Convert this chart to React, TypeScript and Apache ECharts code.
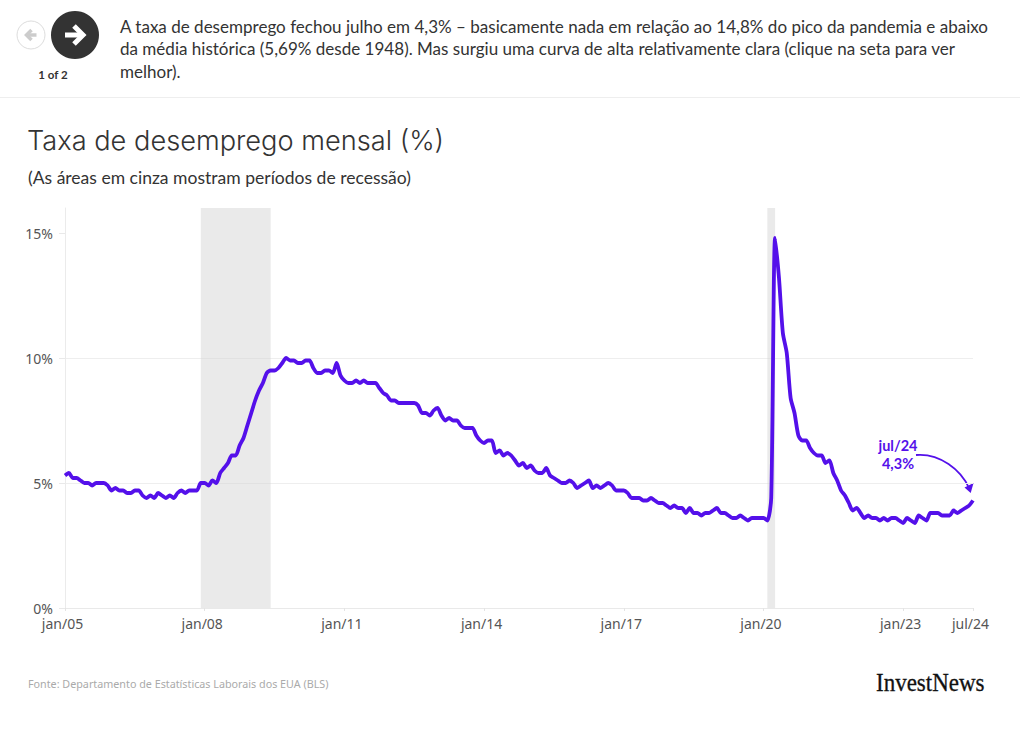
import React, { useEffect, useRef } from "react";
import * as echarts from "echarts";

const y2005 = [5.3, 5.4, 5.2, 5.2, 5.1, 5.0, 5.0, 4.9, 5.0, 5.0, 5.0, 4.9];
const y2006 = [4.7, 4.8, 4.7, 4.7, 4.6, 4.6, 4.7, 4.7, 4.5, 4.4, 4.5, 4.4];
const y2007 = [4.6, 4.5, 4.4, 4.5, 4.4, 4.6, 4.7, 4.6, 4.7, 4.7, 4.7, 5.0];
const y2008 = [5.0, 4.9, 5.1, 5.0, 5.4, 5.6, 5.8, 6.1, 6.1, 6.5, 6.8, 7.3];
const y2009 = [7.8, 8.3, 8.7, 9.0, 9.4, 9.5, 9.5, 9.6, 9.8, 10.0, 9.9, 9.9];
const y2010 = [9.8, 9.8, 9.9, 9.9, 9.6, 9.4, 9.4, 9.5, 9.5, 9.4, 9.8, 9.3];
const y2011 = [9.1, 9.0, 9.0, 9.1, 9.0, 9.1, 9.0, 9.0, 9.0, 8.8, 8.6, 8.5];
const y2012 = [8.3, 8.3, 8.2, 8.2, 8.2, 8.2, 8.2, 8.1, 7.8, 7.8, 7.7, 7.9];
const y2013 = [8.0, 7.7, 7.5, 7.6, 7.5, 7.5, 7.3, 7.2, 7.2, 7.2, 6.9, 6.7];
const y2014 = [6.6, 6.7, 6.7, 6.2, 6.3, 6.1, 6.2, 6.1, 5.9, 5.7, 5.8, 5.6];
const y2015 = [5.7, 5.5, 5.4, 5.4, 5.6, 5.3, 5.2, 5.1, 5.0, 5.0, 5.1, 5.0];
const y2016 = [4.8, 4.9, 5.0, 5.1, 4.8, 4.9, 4.8, 4.9, 5.0, 4.9, 4.7, 4.7];
const y2017 = [4.7, 4.6, 4.4, 4.4, 4.4, 4.3, 4.3, 4.4, 4.3, 4.2, 4.2, 4.1];
const y2018 = [4.0, 4.1, 4.0, 4.0, 3.8, 4.0, 3.8, 3.8, 3.7, 3.8, 3.8, 3.9];
const y2019 = [4.0, 3.8, 3.8, 3.7, 3.6, 3.6, 3.7, 3.6, 3.5, 3.6, 3.6, 3.6];
const y2020 = [3.6, 3.5, 4.4, 14.8, 13.2, 11.0, 10.2, 8.4, 7.8, 6.9, 6.7, 6.7];
const y2021 = [6.4, 6.2, 6.1, 6.1, 5.8, 5.9, 5.4, 5.1, 4.7, 4.5, 4.2, 3.9];
const y2022 = [4.0, 3.8, 3.6, 3.7, 3.6, 3.6, 3.5, 3.6, 3.5, 3.6, 3.6, 3.5];
const y2023 = [3.4, 3.6, 3.5, 3.4, 3.7, 3.6, 3.5, 3.8, 3.8, 3.8, 3.7, 3.7];
const y2024 = [3.7, 3.9, 3.8, 3.9, 4.0, 4.1, 4.3];

const yearSeries = [y2005, y2006, y2007, y2008, y2009, y2010, y2011, y2012, y2013, y2014, y2015, y2016, y2017, y2018, y2019, y2020, y2021, y2022, y2023, y2024];
const monthNames = ["jan", "fev", "mar", "abr", "mai", "jun", "jul", "ago", "set", "out", "nov", "dez"];
const rates = yearSeries.flat();
const categories = yearSeries.flatMap((ys, i) => ys.map((_, m) => `${monthNames[m]}/${String(5 + i).padStart(2, "0")}`));
const tickLabels = ["jan/05", "jan/08", "jan/11", "jan/14", "jan/17", "jan/20", "jan/23", "jul/24"];
const yTicks = [0, 5, 10, 15];
const recessions = [["dez/07", "jun/09"], ["fev/20", "abr/20"]];

const headerLines = [
  "A taxa de desemprego fechou julho em 4,3% – basicamente nada em relação ao 14,8% do pico da pandemia e abaixo",
  "da média histórica (5,69% desde 1948). Mas surgiu uma curva de alta relativamente clara (clique na seta para ver",
  "melhor).",
];

const PURPLE = "#5410ea";
const BODY = "Lato, 'Noto Sans', sans-serif";
const AXIS = "'Noto Sans', sans-serif";

export default function App() {
  const ref = useRef<HTMLDivElement>(null);
  useEffect(() => {
    document.body.style.margin = "0";
    const chart = echarts.init(ref.current!, undefined, { renderer: "svg" });
    const isTick = (i: number) => tickLabels.includes(categories[i]);
    chart.setOption({
      animation: false,
      backgroundColor: "#fff",
      grid: { left: 65, right: 47, top: 208, height: 400, containLabel: false },
      xAxis: {
        type: "category",
        data: categories,
        boundaryGap: false,
        axisLine: { lineStyle: { color: "#e9e9e9" } },
        axisTick: { interval: isTick, length: 3, lineStyle: { color: "#e4e4e4" } },
        axisLabel: {
          interval: isTick,
          margin: 8,
          hideOverlap: false,
          formatter: (v: string) => `{a|${v}}`,
          rich: { a: { fontFamily: AXIS, fontSize: 14, lineHeight: 14, color: "#555", padding: [0, 5, 0, 0] } },
        },
        splitLine: { show: false },
      },
      yAxis: {
        type: "value",
        min: 0,
        max: 16,
        interval: 5,
        axisLine: { show: true, lineStyle: { color: "#ebebeb" } },
        axisTick: { show: true, length: 6, customValues: yTicks, lineStyle: { color: "#e9e9e9" } },
        axisLabel: { customValues: yTicks, margin: 12, formatter: "{value}%", fontFamily: AXIS, fontSize: 14, lineHeight: 14, color: "#555" },
        splitLine: { show: true, showMaxLine: false, lineStyle: { color: "#eeeeee" } },
      },
      series: [
        {
          type: "line",
          data: rates,
          showSymbol: false,
          smooth: 0.25,
          lineStyle: { color: PURPLE, width: 3.8, join: "round", cap: "butt" },
          markArea: {
            silent: true,
            itemStyle: { color: "rgba(210,210,210,0.47)" },
            data: recessions.map(([a, b]) => [{ xAxis: a }, { xAxis: b }]),
          },
        },
      ],
      graphic: {
        elements: [
          { type: "circle", shape: { cx: 31, cy: 35, r: 14 }, style: { fill: "#fff", stroke: "#ddd", lineWidth: 1 } },
          { type: "polyline", shape: { points: [[26.5, 35], [36.5, 35]] }, style: { stroke: "#ccc", lineWidth: 3.5, fill: "none" } },
          { type: "polyline", shape: { points: [[31.5, 30], [26.5, 35], [31.5, 40]] }, style: { stroke: "#ccc", lineWidth: 3.5, fill: "none" } },
          { type: "circle", shape: { cx: 75, cy: 35, r: 24 }, style: { fill: "#333" } },
          { type: "polyline", shape: { points: [[65, 35], [82, 35]] }, style: { stroke: "#fff", lineWidth: 5, fill: "none" } },
          { type: "polyline", shape: { points: [[74, 26], [83, 35], [74, 44]] }, style: { stroke: "#fff", lineWidth: 5, fill: "none" } },
          { type: "text", style: { text: "1 of 2", x: 53, y: 74, align: "center", verticalAlign: "middle", fontFamily: BODY, fontWeight: "bold", fontSize: 11.5, fill: "#333" } },
          ...headerLines.map((t, i) => ({ type: "text", x: 120, y: 26 + i * 22.5, scaleX: 0.947, style: { text: t, x: 0, y: 0, verticalAlign: "middle", fontFamily: BODY, fontSize: 18, fill: "#333" } })),
          { type: "line", shape: { x1: 0, y1: 97.5, x2: 1020, y2: 97.5 }, style: { stroke: "#eee", lineWidth: 1 } },
          { type: "text", style: { text: "Taxa de desemprego mensal (%)", x: 27, y: 140, verticalAlign: "middle", fontFamily: "Inter, sans-serif", fontWeight: 300, fontSize: 27.2, fill: "#333" } },
          { type: "text", style: { text: "(As áreas em cinza mostram períodos de recessão)", x: 28, y: 177, verticalAlign: "middle", fontFamily: BODY, fontSize: 17.55, fill: "#333" } },
          { type: "text", style: { text: "jul/24", x: 898, y: 445, align: "center", verticalAlign: "middle", fontFamily: BODY, fontWeight: "bold", fontSize: 14.5, fill: PURPLE } },
          { type: "text", style: { text: "4,3%", x: 898, y: 463, align: "center", verticalAlign: "middle", fontFamily: BODY, fontWeight: "bold", fontSize: 14.5, fill: PURPLE } },
          { type: "bezierCurve", shape: { x1: 916, y1: 455, cpx1: 940, cpy1: 453, cpx2: 961, cpy2: 470, x2: 969, y2: 488 }, style: { stroke: PURPLE, lineWidth: 1.8, fill: "none" } },
          { type: "polygon", shape: { points: [[970.7, 493], [964.5, 487.5], [973.5, 483]] }, style: { fill: PURPLE } },
          { type: "text", style: { text: "Fonte: Departamento de Estatísticas Laborais dos EUA (BLS)", x: 28, y: 684, verticalAlign: "middle", fontFamily: AXIS, fontSize: 10.75, fill: "#aaa" } },
          { type: "text", x: 876, y: 683, scaleX: 0.92, style: { text: "InvestNews", x: 0, y: 0, verticalAlign: "middle", fontFamily: "'Liberation Serif', serif", fontSize: 25, fill: "#111", stroke: "#111", lineWidth: 0.3 } },
        ],
      },
    });
    return () => chart.dispose();
  }, []);
  return <div ref={ref} style={{ width: 1020, height: 748 }} />;
}
